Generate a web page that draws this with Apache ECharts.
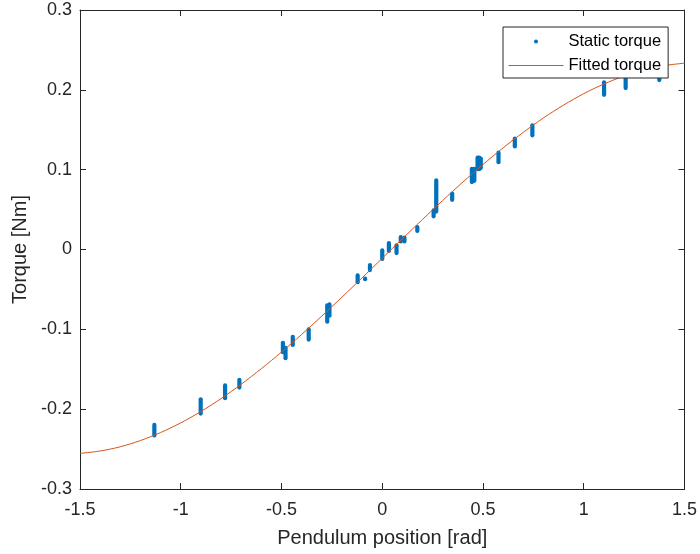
<!DOCTYPE html>
<html><head><meta charset="utf-8">
<script src="https://cdn.jsdelivr.net/npm/echarts@6/dist/echarts.min.js"></script>
<style>html,body{margin:0;padding:0;background:#fff}#chart{width:700px;height:554px}</style>
</head><body><div id="chart"></div>
<script>
const seriesNames = ['Static torque', 'Fitted torque'];
const xTickLabels = ['-1.5', '-1', '-0.5', '0', '0.5', '1', '1.5'];
const yTickLabels = ['-0.3', '-0.2', '-0.1', '0', '0.1', '0.2', '0.3'];

// Static torque measurements: each cluster is a vertical streak of samples (x, lowest y, highest y)
const clusterX    = [-1.131, -0.901, -0.780, -0.709, -0.493, -0.480, -0.444, -0.365, -0.273, -0.262, -0.122, -0.085, -0.061, 0.000, 0.033, 0.071, 0.092, 0.110, 0.174, 0.255, 0.268, 0.347, 0.445, 0.457, 0.473, 0.481, 0.489, 0.577, 0.658, 0.745, 1.101, 1.208, 1.375];
const clusterLow  = [-0.2330, -0.2055, -0.1863, -0.1730, -0.1287, -0.1362, -0.1195, -0.1128, -0.0905, -0.0830, -0.0410, -0.0372, -0.0258, -0.0118, -0.0018, -0.0045, 0.0100, 0.0100, 0.0232, 0.0415, 0.0475, 0.0622, 0.0845, 0.0860, 0.1005, 0.1005, 0.1020, 0.1093, 0.1290, 0.1430, 0.1938, 0.2022, 0.2122];
const clusterHigh = [-0.2197, -0.1877, -0.1702, -0.1632, -0.1168, -0.1231, -0.1093, -0.1000, -0.0700, -0.0688, -0.0325, -0.0366, -0.0195, -0.0010, 0.0080, 0.0052, 0.0155, 0.0150, 0.0282, 0.0490, 0.0865, 0.0700, 0.1010, 0.1010, 0.1150, 0.1150, 0.1140, 0.1213, 0.1390, 0.1555, 0.2095, 0.2220, 0.2160];

// Fitted torque curve
const fitX = [-1.5, -1.4, -1.3, -1.2, -1.1, -1.0, -0.9, -0.8, -0.7, -0.6, -0.5, -0.4, -0.3, -0.2, -0.1, 0.0, 0.1, 0.2, 0.3, 0.4, 0.5, 0.6, 0.7, 0.8, 0.9, 1.0, 1.1, 1.2, 1.3, 1.4, 1.5];
const fitY = [-0.2554, -0.2524, -0.2471, -0.2393, -0.2293, -0.2172, -0.2029, -0.1868, -0.1688, -0.1493, -0.1285, -0.1064, -0.0834, -0.0597, -0.0355, -0.0110, 0.0135, 0.0377, 0.0614, 0.0844, 0.1065, 0.1273, 0.1468, 0.1648, 0.1809, 0.1952, 0.2073, 0.2173, 0.2251, 0.2304, 0.2334];

const xMin = -1.5, xMax = 1.5, xStep = 0.5;
const yMin = -0.3, yMax = 0.3, yStep = 0.1;

const FONT = '"Liberation Sans", Arial, Helvetica, sans-serif';
const AX = '#262626';

const clusterData = clusterX.map((x, i) => [x, clusterLow[i], clusterHigh[i]]);
const fitData = fitX.map((x, i) => [x, fitY[i]]);

function axisBase(pos, isX) {
  return {
    type: 'value',
    position: pos,
    min: isX ? xMin : yMin,
    max: isX ? xMax : yMax,
    interval: isX ? xStep : yStep,
    splitLine: { show: false },
    axisLine: { show: true, onZero: false, lineStyle: { color: AX, width: 1 } },
    axisTick: { show: true, inside: true, length: 6, lineStyle: { color: AX, width: 1 } },
  };
}

const chart = echarts.init(document.getElementById('chart'), null, { renderer: 'canvas' });
chart.setOption({
  animation: false,
  backgroundColor: '#ffffff',
  textStyle: { fontFamily: FONT },
  grid: { left: 80, right: 12, top: 10, bottom: 65, containLabel: false },
  xAxis: [
    Object.assign(axisBase('bottom', true), {
      name: 'Pendulum position [rad]',
      nameLocation: 'middle',
      nameGap: 39,
      nameTextStyle: { fontSize: 20, color: AX, fontFamily: FONT },
      axisLabel: {
        fontSize: 18, color: AX, margin: 12, fontFamily: FONT,
        formatter: v => xTickLabels[Math.round((v - xMin) / xStep)]
      }
    }),
    Object.assign(axisBase('top', true), { axisLabel: { show: false } })
  ],
  yAxis: [
    Object.assign(axisBase('left', false), {
      name: 'Torque [Nm]',
      nameLocation: 'middle',
      nameGap: 47,
      nameTextStyle: { fontSize: 20, color: AX, fontFamily: FONT },
      axisLabel: {
        fontSize: 18, color: AX, margin: 8, fontFamily: FONT,
        formatter: v => yTickLabels[Math.round((v - yMin) / yStep)]
      }
    }),
    Object.assign(axisBase('right', false), { axisLabel: { show: false } })
  ],
  legend: {
    orient: 'vertical',
    left: 503,
    top: 27,
    align: 'left',
    padding: [5, 7, 3, 5],
    itemGap: 5,
    itemWidth: 55,
    itemHeight: 4,
    backgroundColor: '#ffffff',
    borderColor: AX,
    borderWidth: 1,
    borderRadius: 0,
    selectedMode: false,
    lineStyle: { width: 1 },
    textStyle: { fontSize: 16.5, color: '#000000', fontFamily: FONT, lineHeight: 19 },
    data: [
      { name: seriesNames[0], icon: 'circle' },
      { name: seriesNames[1], itemStyle: { opacity: 0, borderWidth: 0 }, lineStyle: { width: 1 } }
    ],
    z: 10
  },
  series: [
    {
      name: seriesNames[0],
      type: 'custom',
      xAxisIndex: 0,
      yAxisIndex: 0,
      z: 2,
      itemStyle: { color: '#0072BD' },
      encode: { x: 0, y: [1, 2] },
      data: clusterData,
      renderItem: function (params, api) {
        const x = api.value(0);
        const p1 = api.coord([x, api.value(1)]);
        const p2 = api.coord([x, api.value(2)]);
        return {
          type: 'line',
          shape: { x1: p1[0], y1: p1[1], x2: p2[0], y2: p2[1] },
          style: { stroke: '#0072BD', lineWidth: 4.2, lineCap: 'round' }
        };
      }
    },
    {
      name: seriesNames[1],
      type: 'line',
      xAxisIndex: 0,
      yAxisIndex: 0,
      z: 3,
      symbol: 'none',
      smooth: 0.3,
      itemStyle: { color: '#D95319' },
      lineStyle: { color: '#D95319', width: 1 },
      data: fitData
    }
  ]
});
</script></body></html>
